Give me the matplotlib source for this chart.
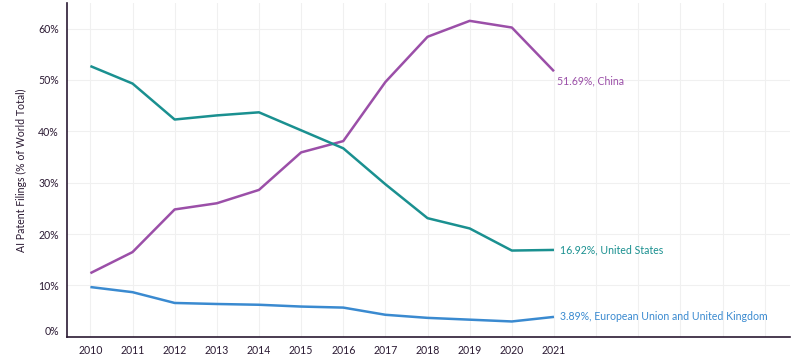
import matplotlib
matplotlib.use("Agg")
import matplotlib.pyplot as plt
import matplotlib.transforms as mtransforms
from matplotlib.ticker import FuncFormatter

years = [2010, 2011, 2012, 2013, 2014, 2015, 2016, 2017, 2018, 2019, 2020, 2021]
china = [12.4, 16.5, 24.8, 26.0, 28.6, 35.9, 38.1, 49.6, 58.4, 61.5, 60.2, 51.69]
us = [52.7, 49.3, 42.3, 43.1, 43.7, 40.2, 36.7, 29.7, 23.1, 21.1, 16.8, 16.92]
eu = [9.7, 8.7, 6.6, 6.4, 6.25, 5.9, 5.7, 4.3, 3.7, 3.35, 3.0, 3.89]
labels = ["51.69%, China", "16.92%, United States", "3.89%, European Union and United Kingdom"]
colors = ["#9b4fa8", "#1a9090", "#3a8ad0"]
grid_years = list(range(2010, 2027))
yticks = [0, 10, 20, 30, 40, 50, 60]

plt.rcParams['font.family'] = ['Lato', 'DejaVu Sans']

fig = plt.figure(figsize=(8, 3.58), dpi=100)
ax = fig.add_axes([0.084, 0.059, 0.9035, 0.933])

for series, c in zip([china, us, eu], colors):
    ax.plot(years, series, color=c, lw=1.8, solid_capstyle='butt')

offsets = [(2, -7), (4, 0), (4, 0)]
for series, c, lab, off in zip([china, us, eu], colors, labels, offsets):
    ax.annotate(lab, xy=(years[-1], series[-1]), xytext=off, textcoords='offset points',
                color=c, fontsize=7.6, va='center', ha='left')

ax.set_xlim(2009.45, 2026.6)
ax.set_ylim(0, 65)
ax.set_xticks(grid_years)
ax.set_xticklabels([str(y) if y <= 2021 else "" for y in grid_years])
ax.set_yticks(yticks)
ax.yaxis.set_major_formatter(FuncFormatter(lambda v, p: f"{int(v)}%"))
ax.grid(True, color="#f0f0f0", lw=0.8)
ax.set_axisbelow(True)
for s in ['top', 'right']:
    ax.spines[s].set_visible(False)
for s in ['left', 'bottom']:
    ax.spines[s].set_color('#2b1a33')
    ax.spines[s].set_linewidth(1.2)
ax.tick_params(length=0, labelsize=7.6, colors='#2b1a33', pad=6)
ax.set_ylabel("AI Patent Filings (% of World Total)", fontsize=7.6, color='#2b1a33', labelpad=8)

# lift the 0% label slightly above the axis line, as in the reference
lab0 = ax.get_yticklabels()[0]
lab0.set_transform(lab0.get_transform() + mtransforms.ScaledTranslation(0, 4.5 / 72, fig.dpi_scale_trans))

fig.savefig("out.png", dpi=100)
